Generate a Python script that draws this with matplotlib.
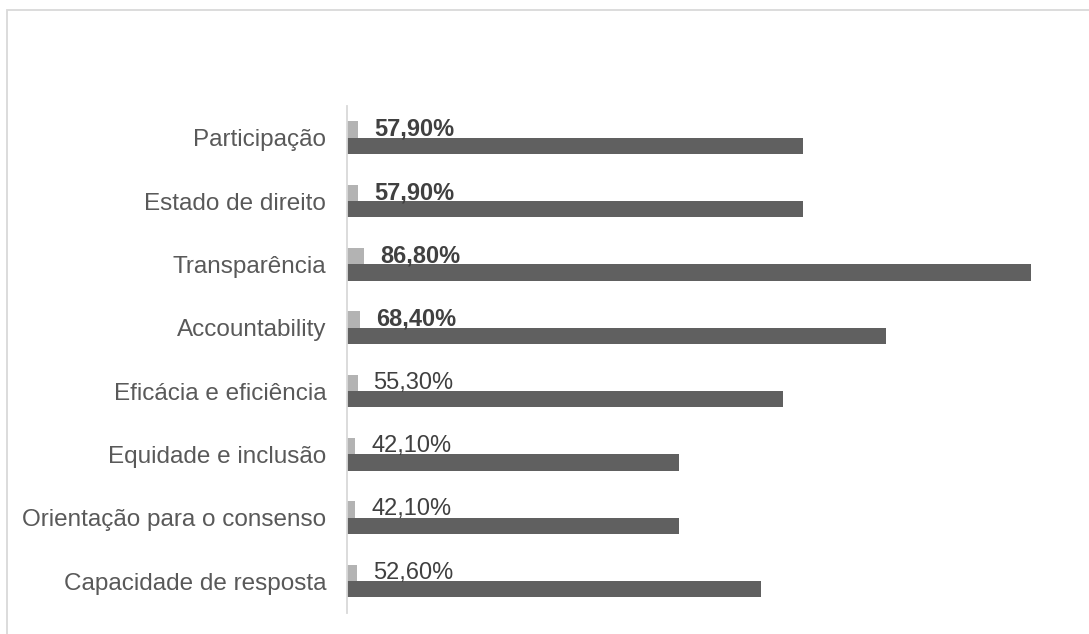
import matplotlib
matplotlib.use("Agg")
import matplotlib.pyplot as plt
from matplotlib.patches import Rectangle

plt.rcParams['font.family'] = ['Liberation Sans', 'DejaVu Sans']

categories = [
    "Participação",
    "Estado de direito",
    "Transparência",
    "Accountability",
    "Eficácia e eficiência",
    "Equidade e inclusão",
    "Orientação para o consenso",
    "Capacidade de resposta",
]
percent_values = [57.9, 57.9, 86.8, 68.4, 55.3, 42.1, 42.1, 52.6]
small_values = [1.45, 1.45, 2.2, 1.7, 1.35, 1.05, 1.05, 1.3]
value_labels = ["57,90%", "57,90%", "86,80%", "68,40%",
                "55,30%", "42,10%", "42,10%", "52,60%"]
bold_labels = [True, True, True, True, False, False, False, False]

W, H = 1089, 634
fig = plt.figure(figsize=(W / 100, H / 100), dpi=100)
fig.patch.set_facecolor("white")

# outer chart frame (right and bottom edges fall outside the canvas)
fig.patches.append(Rectangle((6.5 / W, -0.2), 1.2, (H - 10.5) / H + 0.2,
                             transform=fig.transFigure, fill=False,
                             edgecolor="#d9d9d9", linewidth=1.3, zorder=0))

ax = fig.add_axes([347 / W, (H - 612.7) / H, 708.8 / W, 506.7 / H])

pos = list(range(len(categories)))
bh = 0.26
ax.barh([p - bh / 2 for p in pos], small_values, height=bh,
        color="#b3b3b3", zorder=2)
ax.barh([p + bh / 2 for p in pos], percent_values, height=bh,
        color="#606060", zorder=2)

for p, v, lab, b in zip(pos, small_values, value_labels, bold_labels):
    ax.annotate(lab, xy=(v, p - bh / 2), xytext=(11.5, 0),
                textcoords="offset points", ha="left", va="center",
                fontsize=17, color="#404040",
                fontweight="bold" if b else "normal", zorder=3)

ax.set_xlim(0, 90)
ax.set_ylim(len(categories) - 0.5, -0.5)
ax.set_yticks(pos)
ax.set_yticklabels(categories, fontsize=17.5, color="#595959")
ax.tick_params(axis="y", length=0, pad=15)
ax.set_xticks([])

for s in ["top", "right", "bottom"]:
    ax.spines[s].set_visible(False)
ax.spines["left"].set_color("#d9d9d9")
ax.spines["left"].set_linewidth(1.3)
ax.set_facecolor("none")

fig.savefig("out.png", dpi=100, facecolor="white")
